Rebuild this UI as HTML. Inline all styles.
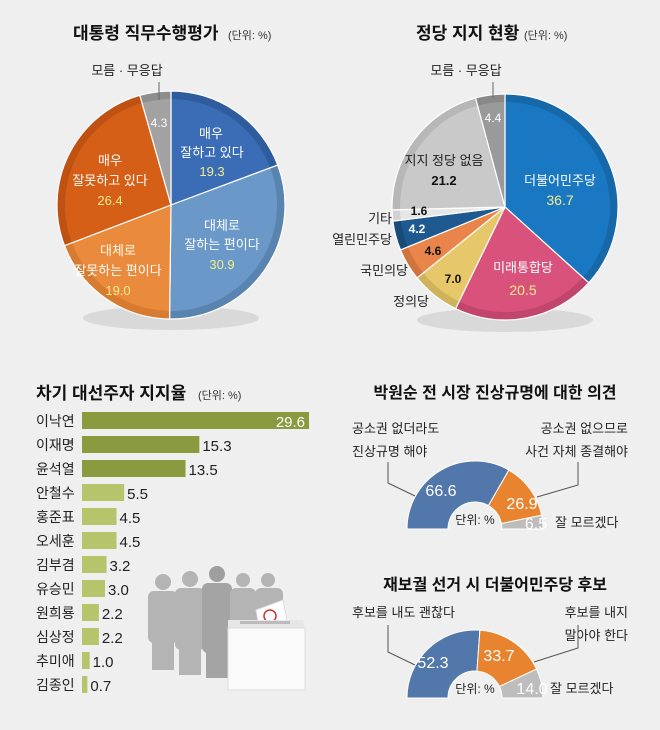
<!DOCTYPE html>
<html><head><meta charset="utf-8"><style>
html,body{margin:0;padding:0;background:#efefef}
svg{display:block}
text{font-family:"Liberation Sans","Noto Sans CJK KR",sans-serif}
</style></head><body>
<svg id="s" width="660" height="730" viewBox="0 0 660 730" xmlns="http://www.w3.org/2000/svg">
<rect width="660" height="730" fill="#efefef"/>
<ellipse cx="171" cy="318" rx="88" ry="12" fill="#d9d9d9"/>
<ellipse cx="505" cy="320" rx="88" ry="12" fill="#d9d9d9"/>
<g id="p1"></g><g id="p2"></g><g id="d1"></g><g id="d2"></g>

<text x="73" y="39" font-size="17" font-weight="bold" fill="#111">대통령 직무수행평가</text>
<text x="228" y="39" font-size="11" fill="#333">(단위: %)</text>
<text x="416" y="39" font-size="17" font-weight="bold" fill="#111">정당 지지 현황</text>
<text x="524" y="39" font-size="11" fill="#333">(단위: %)</text>

<text x="127" y="75" font-size="13" text-anchor="middle" fill="#222">모름 · 무응답</text>
<line x1="159" y1="82" x2="159" y2="100" stroke="#666"/>
<g font-size="13" text-anchor="middle" fill="#fff">
<text x="159" y="127" font-size="12">4.3</text>
<text x="211" y="138">매우</text><text x="212" y="157">잘하고 있다</text>
<text x="212" y="176" fill="#f3ec8a">19.3</text>
<text x="222" y="230">대체로</text><text x="222" y="249">잘하는 편이다</text>
<text x="222" y="269" fill="#f3ec8a">30.9</text>
<text x="110" y="165">매우</text><text x="110" y="185">잘못하고 있다</text>
<text x="110" y="205" fill="#f3ec8a">26.4</text>
<text x="118" y="255" fill="#ffe">대체로</text><text x="118" y="275">잘못하는 편이다</text>
<text x="118" y="295" fill="#f3ec8a">19.0</text>
</g>

<text x="466" y="75" font-size="13" text-anchor="middle" fill="#222">모름 · 무응답</text>
<line x1="493" y1="82" x2="493" y2="98" stroke="#666"/>
<g font-size="13" text-anchor="middle">
<text x="493" y="122" fill="#fff" font-size="12">4.4</text>
<text x="560" y="185" fill="#fff">더불어민주당</text>
<text x="560" y="205" fill="#f3ec8a" font-size="14">36.7</text>
<text x="523" y="272" fill="#fff">미래통합당</text>
<text x="523" y="295" fill="#f3ec8a" font-size="14">20.5</text>
<text x="444" y="165" fill="#222">지지 정당 없음</text>
<text x="444" y="185" fill="#111" font-weight="bold">21.2</text>
<text x="419" y="215" fill="#111" font-weight="bold" font-size="12">1.6</text>
<text x="417" y="233" fill="#fff" font-weight="bold" font-size="12">4.2</text>
<text x="433" y="255" fill="#111" font-weight="bold" font-size="12">4.6</text>
<text x="453" y="283" fill="#111" font-weight="bold" font-size="12">7.0</text>
</g>
<g font-size="13" fill="#222" text-anchor="end">
<text x="392" y="223">기타</text>
<text x="392" y="244">열린민주당</text>
<text x="408" y="275">국민의당</text>
<text x="429" y="306">정의당</text>
</g>

<text x="36" y="399" font-size="17" font-weight="bold" fill="#111">차기 대선주자 지지율</text>
<text x="198" y="399" font-size="11" fill="#333">(단위: %)</text>
<g id="bars"></g>

<g fill="#b4b4b4">
<circle cx="163" cy="582" r="8"/><rect x="148" y="591" width="30" height="52" rx="6"/><rect x="152" y="630" width="22" height="40"/>
<circle cx="190" cy="579" r="8"/><rect x="175" y="588" width="30" height="62" rx="6"/><rect x="179" y="640" width="22" height="35"/>
<circle cx="217" cy="574" r="8" fill="#9e9e9e"/><rect x="202" y="583" width="30" height="70" rx="6" fill="#a4a4a4"/><rect x="206" y="650" width="22" height="28" fill="#a4a4a4"/>
<circle cx="243" cy="580" r="7"/><rect x="230" y="588" width="26" height="55" rx="6"/>
<circle cx="268" cy="580" r="7"/><rect x="255" y="588" width="28" height="50" rx="6"/>
</g>
<polygon points="256,610 283,600 288,625 260,632" fill="#fff" stroke="#ddd"/>
<circle cx="270" cy="616" r="6" fill="none" stroke="#c33" stroke-width="1.5"/>
<polygon points="228,620 303,620 305,628 228,628" fill="#e6e6e6"/>
<rect x="228" y="628" width="77" height="62" fill="#fafafa" stroke="#ddd"/>
<rect x="240" y="621" width="50" height="3" fill="#bbb"/>

<text x="495" y="398" font-size="16" font-weight="bold" fill="#111" text-anchor="middle">박원순 전 시장 진상규명에 대한 의견</text>
<g font-size="13" fill="#222">
<text x="352" y="433">공소권 없더라도</text><text x="352" y="456">진상규명 해야</text>
<text x="628" y="433" text-anchor="end">공소권 없으므로</text><text x="628" y="456" text-anchor="end">사건 자체 종결해야</text>
<text x="555" y="527">잘 모르겠다</text>
</g>
<polyline points="388,462 388,483 415,496" fill="none" stroke="#555"/>
<polyline points="578,462 578,485 537,497" fill="none" stroke="#555"/>

<text x="495" y="590" font-size="16" font-weight="bold" fill="#111" text-anchor="middle">재보궐 선거 시 더불어민주당 후보</text>
<g font-size="13" fill="#222">
<text x="352" y="617">후보를 내도 괜찮다</text>
<text x="628" y="617" text-anchor="end">후보를 내지</text><text x="628" y="640" text-anchor="end">말아야 한다</text>
<text x="550" y="693">잘 모르겠다</text>
</g>
<polyline points="388,625 388,652 415,665" fill="none" stroke="#555"/>
<polyline points="578,625 578,648 534,662" fill="none" stroke="#555"/>
</svg>
<script>
var NS="http://www.w3.org/2000/svg";
function P(cx,cy,r,a0,a1){var f=function(a){var t=(a-90)*Math.PI/180;return [cx+r*Math.cos(t),cy+r*Math.sin(t)]};
var s=f(a0),e=f(a1),l=(a1-a0)>180?1:0;return "M"+cx+","+cy+"L"+s[0]+","+s[1]+"A"+r+","+r+" 0 "+l+" 1 "+e[0]+","+e[1]+"Z";}
function pie(id,cx,cy,r,data){var g=document.getElementById(id),a=0;data.forEach(function(d){var b=a+d[0]*3.6;
var x=document.createElementNS(NS,'path');x.setAttribute('d',P(cx,cy,r,a,b));x.setAttribute('fill',d[2]);g.appendChild(x);
var y=document.createElementNS(NS,'path');y.setAttribute('d',P(cx,cy,r-8,a,b));y.setAttribute('fill',d[1]);g.appendChild(y);
var z=document.createElementNS(NS,'path');z.setAttribute('d',P(cx,cy,r,a,b));z.setAttribute('fill','none');z.setAttribute('stroke','#fff');z.setAttribute('stroke-width','1.2');g.appendChild(z);a=b;});}
pie('p1',171,205,114,[[19.3,'#3a6db5','#2f5c9c'],[30.9,'#6a98c8','#5a84b0'],[19.0,'#e98a3c','#d77b30'],[26.4,'#d65f18','#bf5212'],[4.4,'#a2a2a2','#8e8e8e']]);
pie('p2',505,207,113,[[36.7,'#1a78c2','#1768a8'],[20.5,'#d9527b','#c2466c'],[7.0,'#e6c86a','#cfb35c'],[4.6,'#e9844a','#d0743e'],[4.2,'#1e5a90','#174b78'],[1.6,'#e6e6e6','#d2d2d2'],[21.2,'#c9c9c9','#b7b7b7'],[4.2,'#9a9a9a','#888']]);
function donut(id,cx,cy,R,r,data){var g=document.getElementById(id),a=-90;data.forEach(function(d){var b=a+d[0]*1.8;
function pt(rad,ang){var t=(ang-90)*Math.PI/180;return [cx+rad*Math.cos(t),cy+rad*Math.sin(t)]}
var p1=pt(R,a),p2=pt(R,b),p3=pt(r,b),p4=pt(r,a);
var x=document.createElementNS(NS,'path');x.setAttribute('d',"M"+p1+"A"+R+","+R+" 0 0 1 "+p2+"L"+p3+"A"+r+","+r+" 0 0 0 "+p4+"Z");
x.setAttribute('fill',d[1]);x.setAttribute('stroke','#fff');x.setAttribute('stroke-width','1');g.appendChild(x);
var t=document.createElementNS(NS,'text');t.setAttribute('x',d[2]);t.setAttribute('y',d[3]);
t.setAttribute('text-anchor','middle');t.setAttribute('font-size','16');t.setAttribute('fill','#fff');t.textContent=d[0].toFixed(1);g.appendChild(t);a=b;});
var t=document.createElementNS(NS,'text');t.setAttribute('x',cx);t.setAttribute('y',cy-5);t.setAttribute('text-anchor','middle');t.setAttribute('font-size','12');t.setAttribute('fill','#222');t.textContent='단위: %';g.appendChild(t);}
donut('d1',475,529,68,27,[[66.6,'#5278ab',441,496],[26.9,'#e8832f',522,509],[6.5,'#bdbdbd',536,529]]);
donut('d2',475,698,68,27,[[52.3,'#5278ab',433,668],[33.7,'#e8832f',499,661],[14.0,'#bdbdbd',532,694]]);
var names=['이낙연','이재명','윤석열','안철수','홍준표','오세훈','김부겸','유승민','원희룡','심상정','추미애','김종인'],
vals=[29.6,15.3,13.5,5.5,4.5,4.5,3.2,3.0,2.2,2.2,1.0,0.7],g=document.getElementById('bars');
names.forEach(function(n,i){var y=421+24*i,w=vals[i]*7.67;
var r=document.createElementNS(NS,'rect');r.setAttribute('x',82);r.setAttribute('y',y-9);r.setAttribute('width',w);r.setAttribute('height',17);r.setAttribute('fill',i<3?'#8a9a3e':'#b6c46c');g.appendChild(r);
var t=document.createElementNS(NS,'text');t.setAttribute('x',36);t.setAttribute('y',y+5);t.setAttribute('font-size','14');t.setAttribute('fill','#222');t.textContent=n;g.appendChild(t);
var v=document.createElementNS(NS,'text');v.setAttribute('font-size','15');v.textContent=vals[i].toFixed(1);
if(i==0){v.setAttribute('x',82+w-4);v.setAttribute('text-anchor','end');v.setAttribute('fill','#fff');}else{v.setAttribute('x',82+w+3);v.setAttribute('fill','#222');}
v.setAttribute('y',y+6);g.appendChild(v);});
</script>
</body></html>
